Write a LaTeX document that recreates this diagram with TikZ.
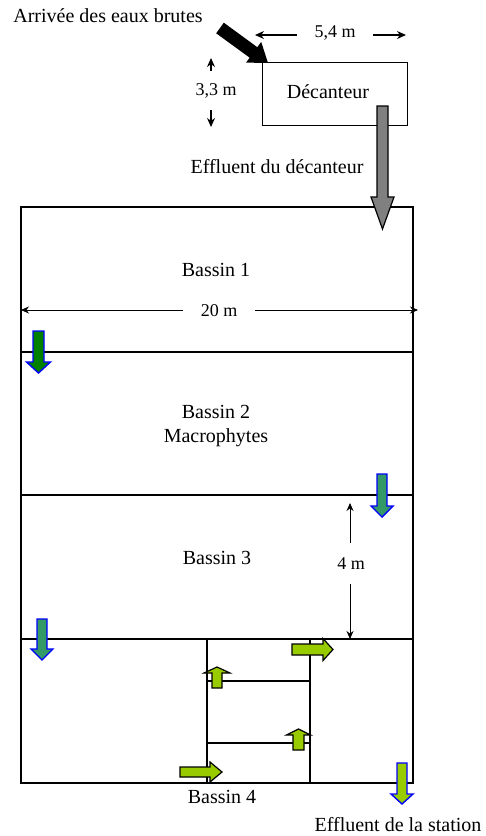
\documentclass[tikz,border=0pt]{standalone}
\usepackage{fontspec}
\setmainfont{Liberation Serif}
\usetikzlibrary{arrows.meta}
\definecolor{dgreen}{RGB}{0,128,0}
\definecolor{sgreen}{RGB}{51,153,102}
\definecolor{lgreen}{RGB}{153,204,0}
\definecolor{mgray}{RGB}{128,128,128}
\newcommand{\arrV}[7]{\draw[#1] ({#2-#6},#3) -- ({#2+#6},#3) -- ({#2+#6},#4) -- ({#2+#7},#4) -- (#2,#5) -- ({#2-#7},#4) -- ({#2-#6},#4) -- cycle;}
\newcommand{\arrH}[7]{\draw[#1] (#3,{#2-#6}) -- (#3,{#2+#6}) -- (#4,{#2+#6}) -- (#4,{#2+#7}) -- (#5,#2) -- (#4,{#2-#7}) -- (#4,{#2-#6}) -- cycle;}
\begin{document}
\begin{tikzpicture}[x=1pt,y=-1pt,
  wall/.style={line width=1.7pt},
  lbl/.style={font=\fontsize{20}{24}\selectfont, inner sep=0pt, align=center},
  dim/.style={font=\fontsize{18}{22}\selectfont, inner sep=0pt},
  dimline/.style={line width=0.8pt, -{Stealth[length=8pt,width=7pt]}},
  topdim/.style={line width=1.3pt, -{Stealth[length=9pt,width=8pt]}},
  bluearr/.style={draw=blue, line width=1.4pt},
  blackarr/.style={draw=black, line width=1.2pt, fill=lgreen},
]
\useasboundingbox (0,0) rectangle (486,836);
% main basins
\draw[wall] (21,207) rectangle (413,783);
\draw[wall] (21,352) -- (413,352);
\draw[wall] (21,495) -- (413,495);
\draw[wall] (21,639) -- (413,639);
\draw[wall] (207,639) -- (207,783);
\draw[wall] (310,639) -- (310,783);
\draw[wall] (207,681) -- (310,681);
\draw[wall] (207,743) -- (310,743);
% decanteur
\node[draw, line width=0.9pt, minimum width=145pt, minimum height=63pt, inner sep=0pt] (dec) at (334.5,93.5) {};
\node[lbl] (dect) at (328,92) {Décanteur};
% texts
\node[lbl] (arr) at (108,16) {Arrivée des eaux brutes};
\node[lbl] (effd) at (277,167) {Effluent du décanteur};
\node[lbl] (b1) at (216,270) {Bassin 1};
\node[lbl] (b2) at (216,426) {Bassin 2\\Macrophytes};
\node[lbl] (b3) at (217,558) {Bassin 3};
\node[lbl] (b4) at (222,797) {Bassin 4};
\node[lbl] (effs) at (398,825) {Effluent de la station};
% dimensions
\node[dim] (d54) at (335,33) {5,4 m};
\coordinate (d54l) at (297,35); \coordinate (d54lt) at (255,35);
\coordinate (d54r) at (373,35); \coordinate (d54rt) at (406,35);
\draw[topdim] (d54l) -- (d54lt);
\draw[topdim] (d54r) -- (d54rt);
\node[dim] (d33) at (216,91) {3,3 m};
\coordinate (d33a) at (211,71); \coordinate (d33at) at (211,58);
\coordinate (d33b) at (211,110); \coordinate (d33bt) at (211,127);
\draw[topdim] (d33a) -- (d33at);
\draw[topdim] (d33b) -- (d33bt);
\node[dim] (d20) at (219,311) {20 m};
\coordinate (d20l) at (183,310); \coordinate (d20lt) at (21,310);
\coordinate (d20r) at (255,310); \coordinate (d20rt) at (418,310);
\draw[dimline] (d20l) -- (d20lt);
\draw[dimline] (d20r) -- (d20rt);
\node[dim] (d4) at (351,564) {4 m};
\coordinate (d4a) at (350,543); \coordinate (d4at) at (350,503);
\coordinate (d4b) at (350,584); \coordinate (d4bt) at (350,639);
\draw[dimline] (d4a) -- (d4at);
\draw[dimline] (d4b) -- (d4bt);
% inflow black arrow
\fill[black] (216.2,33.3) -- (223.8,22.7) -- (257.3,47.2) -- (261.2,41.9) -- (268,63) -- (246.0,62.6) -- (249.7,57.7) -- cycle;
% gray arrow from decanteur
\arrV{draw=black, line width=1.2pt, fill=mgray}{382.5}{106}{197}{229}{5.5}{11.5}
% flow arrows
\arrV{bluearr, fill=dgreen}{38.5}{331}{362}{373}{5.5}{12}
\arrV{bluearr, fill=sgreen}{382}{474}{506}{517}{5}{11}
\arrV{bluearr, fill=sgreen}{42}{619}{649}{660}{5}{11}
\arrV{bluearr, fill=lgreen}{402}{763}{794}{804}{5}{11}
\arrH{blackarr}{649.5}{292}{323}{333}{5.5}{11}
\arrH{blackarr}{772}{180}{210}{222}{5}{10}
\arrV{blackarr}{217}{688}{673}{667}{5}{13}
\arrV{blackarr}{298.5}{750}{735}{729}{5.5}{12}
\end{tikzpicture}
\end{document}
